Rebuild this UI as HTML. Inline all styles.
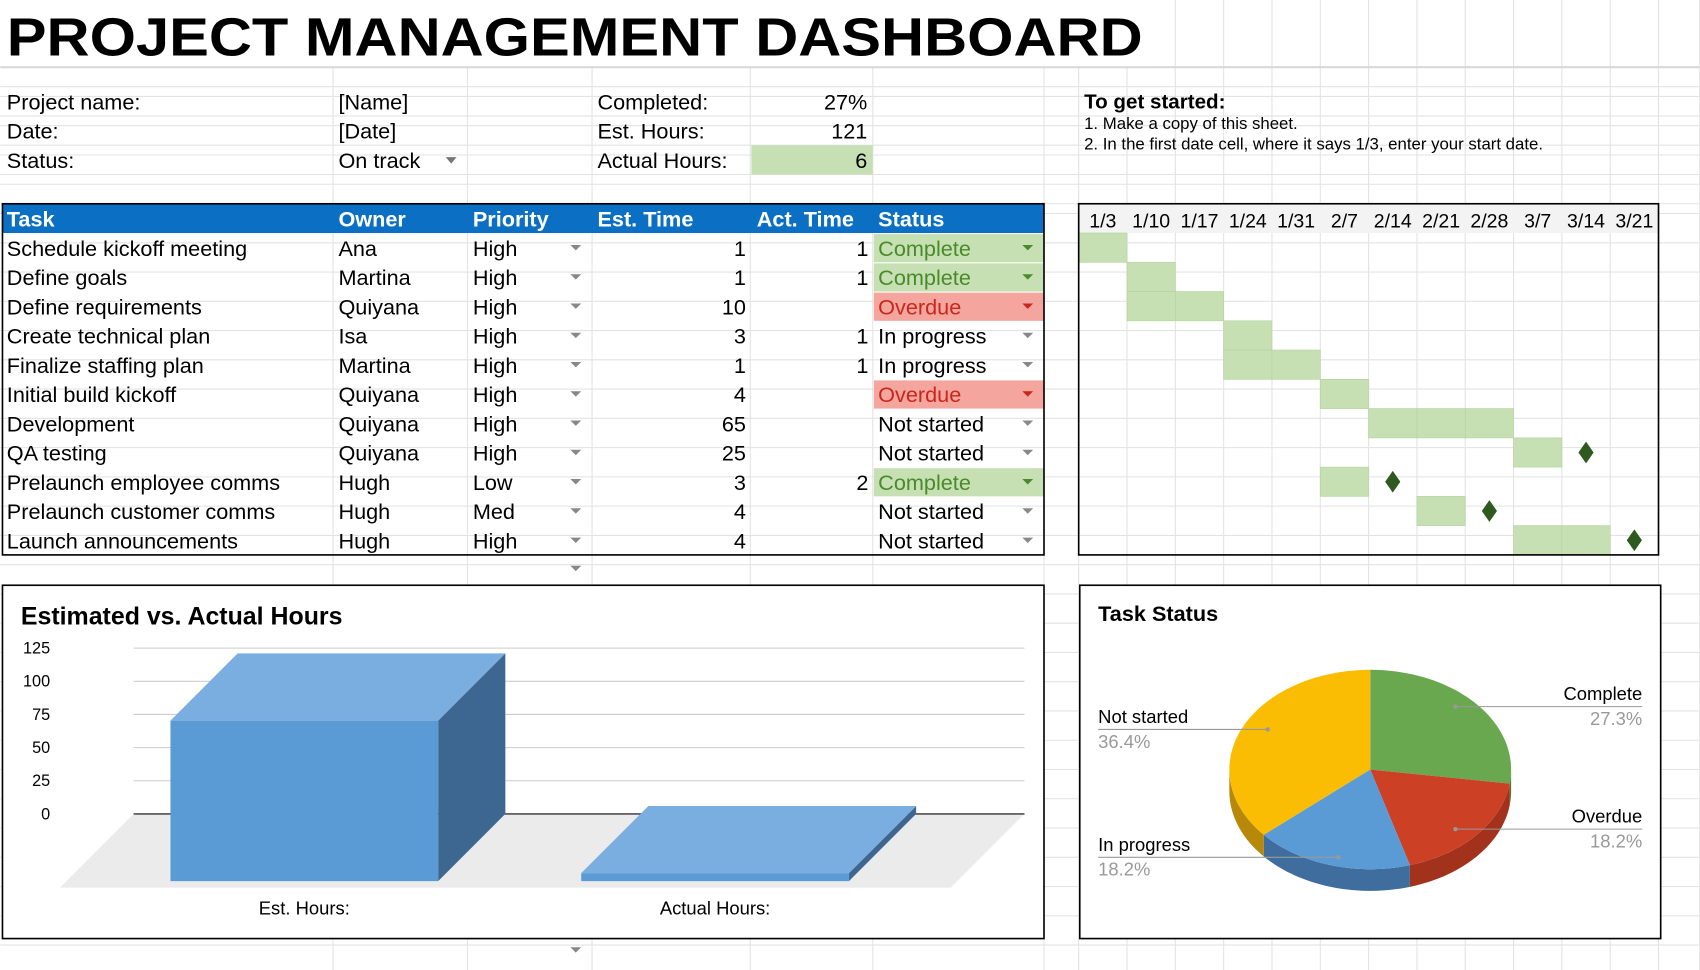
<!DOCTYPE html>
<html><head><meta charset="utf-8"><style>
html,body{margin:0;padding:0;background:#fff;overflow:hidden}
svg{display:block}
text{font-family:"Liberation Sans",sans-serif}
</style></head><body>
<svg id="s" width="1700" height="970" viewBox="0 0 1568 895" xmlns="http://www.w3.org/2000/svg">
<rect width="1568" height="895" fill="#fff"/>
<g id="grid" stroke="#e3e3e3" stroke-width="1"></g>
<text x="6" y="51" font-size="50" font-weight="bold" textLength="1048" lengthAdjust="spacingAndGlyphs" fill="#000">PROJECT MANAGEMENT DASHBOARD</text>
<g font-size="20" fill="#000">
<text x="6" y="101">Project name:</text><text x="312" y="101">[Name]</text>
<text x="6" y="128">Date:</text><text x="312" y="128">[Date]</text>
<text x="6" y="155">Status:</text><text x="312" y="155">On track</text>
<path d="M411 145 l10 0 l-5 6z" fill="#777"/>
<text x="551" y="101">Completed:</text><text x="800" y="101" text-anchor="end">27%</text>
<text x="551" y="128">Est. Hours:</text><text x="800" y="128" text-anchor="end">121</text>
<rect x="693" y="134" width="112" height="27" fill="#c6e0b4"/>
<text x="551" y="155">Actual Hours:</text><text x="800" y="155" text-anchor="end">6</text>
</g>
<g>
<text x="1000" y="100" font-size="19" font-weight="bold">To get started:</text>
<text x="1000" y="119" font-size="15.5">1. Make a copy of this sheet.</text>
<text x="1000" y="138" font-size="15.5">2. In the first date cell, where it says 1/3, enter your start date.</text>
</g>
<g id="table"></g>
<g id="gantt"></g>
<g id="bar"></g>
<g id="pie"></g>
</svg>
<script>
const NS="http://www.w3.org/2000/svg";
function mk(p,tag,a,txt){const e=document.createElementNS(NS,tag);for(const k in a)e.setAttribute(k,a[k]);if(txt!=null)e.textContent=txt;p.appendChild(e);return e;}

const tasks=["Schedule kickoff meeting","Define goals","Define requirements","Create technical plan","Finalize staffing plan","Initial build kickoff","Development","QA testing","Prelaunch employee comms","Prelaunch customer comms","Launch announcements"];
const owners=["Ana","Martina","Quiyana","Isa","Martina","Quiyana","Quiyana","Quiyana","Hugh","Hugh","Hugh"];
const priorities=["High","High","High","High","High","High","High","High","Low","Med","High"];
const estTimes=[1,1,10,3,1,4,65,25,3,4,4];
const actTimes=[1,1,null,1,1,null,null,null,2,null,null];
const statuses=["Complete","Complete","Overdue","In progress","In progress","Overdue","Not started","Not started","Complete","Not started","Not started"];
const weeks=["1/3","1/10","1/17","1/24","1/31","2/7","2/14","2/21","2/28","3/7","3/14","3/21"];
const ganttStart=[0,1,1,3,3,5,6,9,5,7,9];
const ganttLen=[1,1,2,1,2,1,3,1,1,1,2];
const milestone=[null,null,null,null,null,null,null,10,6,8,11];
const barCats=["Est. Hours:","Actual Hours:"];
const barVals=[121,6];
const yTicks=[0,25,50,75,100,125];
const pieLabels=["Complete","Overdue","In progress","Not started"];
const pieVals=[3,2,2,4];

const g=document.getElementById('grid');
const vx=[307,431,546,692,805,963,995];
for(let i=1;i<=12;i++)vx.push(995+i*535/12);
vx.push(1568);
vx.forEach(x=>mk(g,'line',{x1:x,y1:0,x2:x,y2:895}));
for(let y=62;y<895;y+=27){mk(g,'line',{x1:0,y1:y,x2:1568,y2:y});}
[80,107,134,161,188].forEach(y=>mk(g,'line',{x1:0,y1:y,x2:1568,y2:y}));
mk(g,'line',{x1:0,y1:62,x2:1568,y2:62,stroke:'#d8d8d8','stroke-width':2});
mk(g,'rect',{x:0,y:0,width:1062,height:61,fill:'#fff',stroke:'none'});

const t=document.getElementById('table');
mk(t,'rect',{x:2,y:188,width:961,height:27,fill:'#0b6fc4'});
const hdr=[["Task",6],["Owner",312],["Priority",436],["Est. Time",551],["Act. Time",698],["Status",810]];
hdr.forEach(h=>{const e=mk(t,'text',{x:h[1],y:209,'font-size':20,'font-weight':'bold',fill:'#fff'},h[0]);

});
tasks.forEach((tk,i)=>{
 const y=215+i*27, b=y+21;
 const row=mk(t,'g',{});
 
 
 const st=statuses[i];
 let bg=null,fc='#000';
 if(st==='Complete'){bg='#c6e0b4';fc='#4a8a2a';}
 if(st==='Overdue'){bg='#f4a59d';fc='#c8281c';}
 if(bg)mk(row,'rect',{x:806,y:y+1,width:157,height:26,fill:bg});
 mk(row,'text',{x:6,y:b,'font-size':20},tk);
 mk(row,'text',{x:312,y:b,'font-size':20},owners[i]);
 mk(row,'text',{x:436,y:b,'font-size':20},priorities[i]);
 mk(row,'path',{d:`M526 ${y+11} l10 0 l-5 5z`,fill:'#888'});
 mk(row,'text',{x:688,y:b,'font-size':20,'text-anchor':'end'},estTimes[i]);
 if(actTimes[i]!=null)mk(row,'text',{x:801,y:b,'font-size':20,'text-anchor':'end'},actTimes[i]);
 const s=mk(row,'text',{x:810,y:b,'font-size':20,fill:fc},st);
 
 
 mk(row,'path',{d:`M943 ${y+11} l10 0 l-5 5z`,fill:st==='Overdue'?'#c8281c':(st==='Complete'?'#4a8a2a':'#888')});
});
mk(t,'rect',{x:2,y:188,width:961,height:324,fill:'none',stroke:'#000','stroke-width':1.5});
mk(t,'path',{d:'M526 522 l10 0 l-5 5z',fill:'#888'});
mk(t,'path',{d:'M526 874 l10 0 l-5 5z',fill:'#888'});

const gt=document.getElementById('gantt');
const cw=535/12, gx=995;
mk(gt,'rect',{x:gx,y:188,width:535,height:27,fill:'#f3f3f3'});
weeks.forEach((w,i)=>{const e=mk(gt,'text',{x:gx+cw*i+cw/2,y:210,'font-size':18,'text-anchor':'middle'},w);

});
ganttStart.forEach((s,i)=>{
 const y=215+i*27;
 for(let k=0;k<ganttLen[i];k++){const r=mk(gt,'rect',{x:gx+(s+k)*cw,y:y,width:cw,height:27,fill:'#c6e0b4',stroke:'#b5d3a0','stroke-width':0.6});
 
 }
 if(milestone[i]!=null){const cx=gx+milestone[i]*cw+cw/2,cy=y+13.5;
 const d=mk(gt,'path',{d:`M${cx} ${cy-10} L${cx+7} ${cy} L${cx} ${cy+10} L${cx-7} ${cy}Z`,fill:'#2f5a1f'});
 
 }
});
mk(gt,'rect',{x:gx,y:188,width:535,height:324,fill:'none',stroke:'#000','stroke-width':1.5});

const bc=document.getElementById('bar');
mk(bc,'rect',{x:2,y:540,width:961,height:326,fill:'#fff',stroke:'#000','stroke-width':1.5});
mk(bc,'text',{x:19,y:576,'font-size':23,'font-weight':'bold'},'Estimated vs. Actual Hours');
const y0=751, ys=153/125, dep=62;
const Y=v=>y0-v*ys;
mk(bc,'polygon',{points:`123,${y0} 945,${y0} 877,${y0+68} 55,${y0+68}`,fill:'#ebebeb'});
yTicks.forEach(v=>{
 mk(bc,'line',{x1:123,y1:Y(v),x2:945,y2:Y(v),stroke:v===0?'#333':'#ccc','stroke-width':v===0?1.2:1});
 const e=mk(bc,'text',{x:46,y:Y(v)+5,'font-size':15,'text-anchor':'end'},v);
 
 
});
const bx=[219,598], bw=247;
barVals.forEach((v,i)=>{
 const x=bx[i], top=Y(v);
 const grp=mk(bc,'g',{});
 
 
 mk(grp,'polygon',{points:`${x+bw-dep},${top+dep} ${x+bw},${top} ${x+bw},${y0} ${x+bw-dep},${y0+dep}`,fill:'#3d6791'});
 mk(grp,'polygon',{points:`${x-dep},${top+dep} ${x},${top} ${x+bw},${top} ${x+bw-dep},${top+dep}`,fill:'#7aaee0'});
 mk(grp,'rect',{x:x-dep,y:top+dep,width:bw,height:y0-top,fill:'#5b9bd5'});
 const l=mk(bc,'text',{x:x-dep+bw/2,y:844,'font-size':17,'text-anchor':'middle'},barCats[i]);
 
 
});

const pc=document.getElementById('pie');
mk(pc,'rect',{x:996,y:540,width:536,height:326,fill:'#fff',stroke:'#000','stroke-width':1.5});
mk(pc,'text',{x:1013,y:573,'font-size':20,'font-weight':'bold'},'Task Status');
const cx=1264,cy=710,rx=130,ry=92,dz=20;
const cols=['#6aa84f','#cc4125','#5b9bd5','#fbbc04'];
const dark=['#4a7a36','#a3321c','#3f6e9e','#b8880a'];
const tot=pieVals.reduce((a,b)=>a+b,0);
const P=(a,dy)=>[cx+rx*Math.sin(a),cy-ry*Math.cos(a)+(dy||0)];
let a=0;const angs=[];
pieVals.forEach(v=>{const a1=a+v/tot*2*Math.PI;angs.push([a,a1]);a=a1;});
angs.forEach(([a0,a1],i)=>{
 const s=Math.max(a0,Math.PI/2), e=Math.min(a1,3*Math.PI/2);
 if(e<=s)return;
 let d='M'+P(s).join(',');
 for(let k=0;k<=30;k++){d+=' L'+P(s+(e-s)*k/30).join(',');}
 for(let k=30;k>=0;k--){d+=' L'+P(s+(e-s)*k/30,dz).join(',');}
 mk(pc,'path',{d:d+'Z',fill:dark[i]});
});
angs.forEach(([a0,a1],i)=>{
 let d=`M${cx},${cy}`;
 for(let k=0;k<=40;k++)d+=' L'+P(a0+(a1-a0)*k/40).join(',');
 const sl=mk(pc,'path',{d:d+'Z',fill:cols[i]});
 
 
});
angs.forEach(([a0,a1],i)=>{
 const m=(a0+a1)/2, pt=P(m);
 const ax=cx+(pt[0]-cx)*0.8;
 const right=Math.sin(m)>0;
 const ly=right?(i===0?652:765):(i===3?673:791);
 const lx=right?1515:1013;
 mk(pc,'line',{x1:ax,y1:ly,x2:lx,y2:ly,stroke:'#999','stroke-width':1});
 mk(pc,'circle',{cx:ax,cy:ly,r:2,fill:'#999'});
 const n=mk(pc,'text',{x:lx,y:ly-6,'font-size':17,'text-anchor':right?'end':'start'},pieLabels[i]);
 
 
 const p=mk(pc,'text',{x:lx,y:ly+17,'font-size':17,fill:'#999','text-anchor':right?'end':'start'},(pieVals[i]/tot*100).toFixed(1)+'%');
 
 
});
</script>
</body></html>
